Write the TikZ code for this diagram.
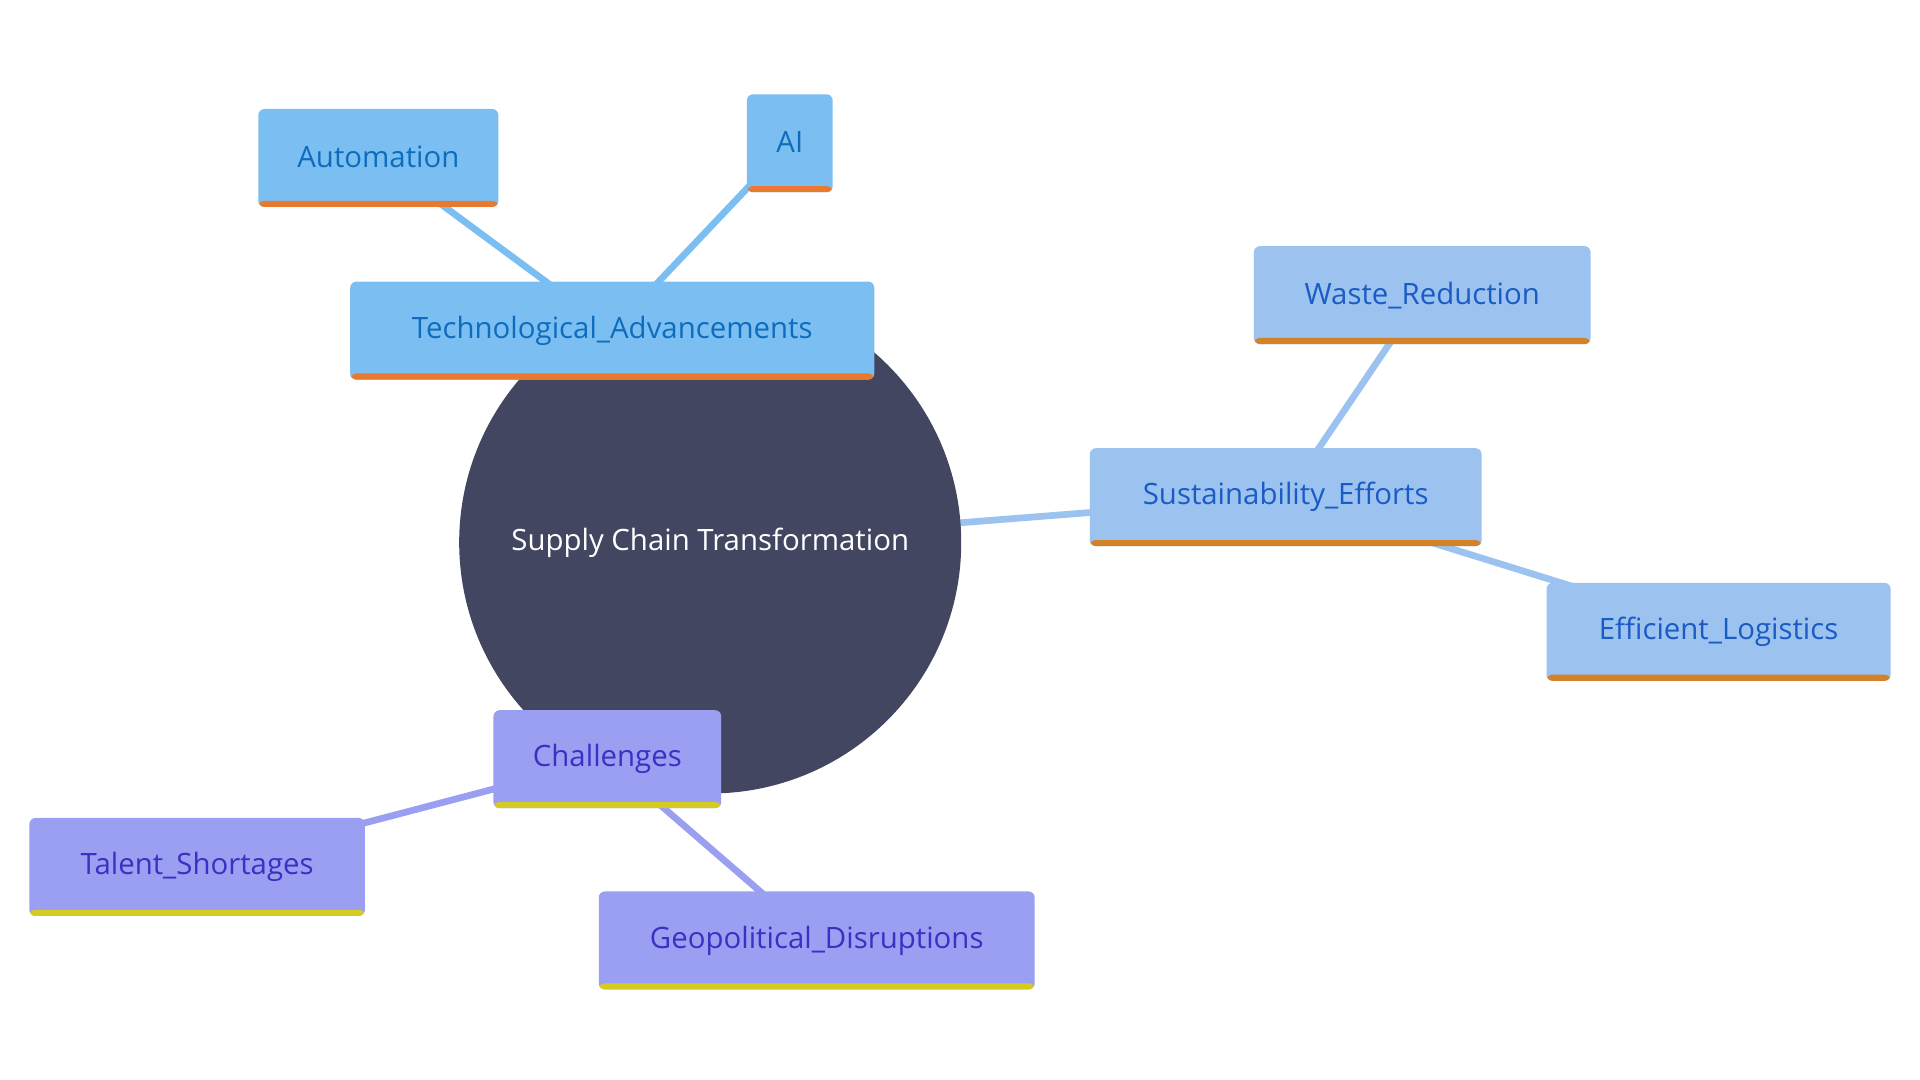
\documentclass[tikz,border=0pt]{standalone}
\usepackage{fontspec}
\setmainfont{Open Sans}
\usetikzlibrary{backgrounds}
\definecolor{root}{HTML}{424660}
\definecolor{techF}{HTML}{7BBFF2}\definecolor{techT}{HTML}{0F6CBD}\definecolor{techB}{HTML}{E8792F}
\definecolor{susF}{HTML}{9CC3F0}\definecolor{susT}{HTML}{1A5BC4}\definecolor{susB}{HTML}{D4822A}
\definecolor{chF}{HTML}{9B9FF2}\definecolor{chT}{HTML}{3A30C4}\definecolor{chB}{HTML}{D4CC22}
\tikzset{
 box/.style n args={3}{rectangle, rounded corners=5pt, fill=#1, text=#2, minimum height=80pt, inner sep=0pt,
   font=\fontsize{24}{28}\selectfont,
   path picture={\fill[#3] (path picture bounding box.south west) rectangle ([yshift=5pt]path picture bounding box.south east);}},
 tech/.style={box={techF}{techT}{techB}},
 sus/.style={box={susF}{susT}{susB}},
 ch/.style={box={chF}{chT}{chB}},
 edge/.style={line width=5.5pt,#1}
}
\begin{document}
\begin{tikzpicture}[x=1pt,y=-1pt]
\useasboundingbox (0,0) rectangle (1568,882);
\node[circle, fill=root, minimum size=410pt, text=white, font=\fontsize{24}{28}\selectfont] (root) at (580,443) {Supply Chain Transformation};
\node[tech, minimum width=428pt] (tech) at (500,270) {\raisebox{2pt}{Technological\_Advancements}};
\node[tech, minimum width=196pt] (auto) at (309,129) {\raisebox{2pt}{Automation}};
\node[tech, minimum width=70pt] (ai) at (645,117) {\raisebox{2pt}{AI}};
\node[sus, minimum width=320pt] (sus) at (1050,406) {\raisebox{2pt}{Sustainability\_Efforts}};
\node[sus, minimum width=275pt] (waste) at (1161.5,241) {\raisebox{2pt}{Waste\_Reduction}};
\node[sus, minimum width=281pt] (eff) at (1403.5,516) {\raisebox{2pt}{Efficient\_Logistics}};
\node[ch, minimum width=186pt] (ch) at (496,620) {\raisebox{2pt}{Challenges}};
\node[ch, minimum width=274pt] (tal) at (161,708) {\raisebox{2pt}{Talent\_Shortages}};
\node[ch, minimum width=356pt] (geo) at (667,768) {\raisebox{2pt}{Geopolitical\_Disruptions}};
\begin{scope}[on background layer]
\draw[edge=techF] (tech.center) -- (auto.center);
\draw[edge=techF] (tech.center) -- (ai.center);
\draw[edge=susF] (root.center) -- (sus.center);
\draw[edge=susF] (sus.center) -- (waste.center);
\draw[edge=susF] (sus.center) -- (eff.center);
\draw[edge=chF] (ch.center) -- (tal.center);
\draw[edge=chF] (ch.center) -- (geo.center);
\end{scope}
\end{tikzpicture}
\end{document}
